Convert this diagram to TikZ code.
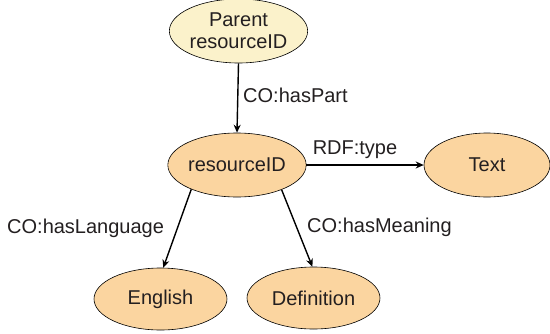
\documentclass[tikz,border=0pt]{standalone}
\usepackage{fontspec}
\setmainfont{Liberation Sans}
\usetikzlibrary{shapes.geometric,arrows.meta}
\definecolor{conceptfill}{HTML}{FBD5A0}
\definecolor{parentfill}{HTML}{FBF2CB}
\definecolor{inktext}{HTML}{231F20}
\tikzset{
  concept/.style={ellipse, draw=black, line width=0.6pt, fill=conceptfill,
    inner sep=0pt, text=inktext, font=\fontsize{20}{22}\selectfont},
  relation/.style={-{Stealth[length=8pt,width=7pt]}, line width=1.4pt, draw=black},
  rellabel/.style={inner sep=0pt, text=inktext, font=\fontsize{20}{22}\selectfont}
}
\begin{document}
\begin{tikzpicture}[x=1pt,y=-1pt]
  \useasboundingbox (0,0) rectangle (550,333);

  % concepts
  \node[concept, fill=parentfill, minimum width=134pt, minimum height=64pt, align=center]
    (par) at (238.5,31) {Parent\\resourceID};
  \node[concept, minimum width=134pt, minimum height=64pt] (res) at (237,165) {resourceID};
  \node[concept, minimum width=126pt, minimum height=64pt] (txt) at (487,165) {Text};
  \node[concept, minimum width=133pt, minimum height=62pt] (eng) at (160.5,299) {English};
  \node[concept, minimum width=133pt, minimum height=62pt] (def) at (313.5,298) {Definition};

  % relations
  \draw[relation] (par.south) -- (res.north);
  \draw[relation] (res.east) -- (txt.west);
  \draw[relation] (res.208) -- (eng.85);
  \draw[relation] (res.331) -- (def.92);

  % relation labels
  \node[rellabel, anchor=west] (lpart) at (243,95) {CO:hasPart};
  \node[rellabel] (ltype) at (355,150) {RDF:type};
  \node[rellabel, anchor=west] (llang) at (7,228) {CO:hasLanguage};
  \node[rellabel, anchor=west] (lmean) at (307,227) {CO:hasMeaning};
\end{tikzpicture}
\end{document}
